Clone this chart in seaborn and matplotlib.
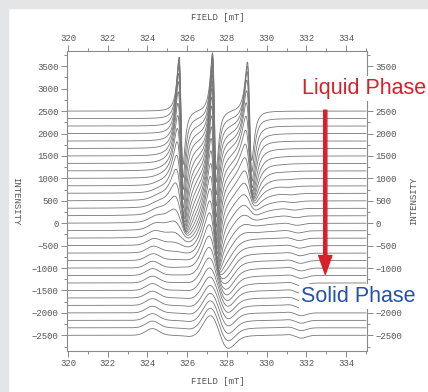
import numpy as np
import pandas as pd
import seaborn as sns
import matplotlib
matplotlib.use("Agg")
import matplotlib.pyplot as plt
from matplotlib.patches import Rectangle, FancyArrowPatch
from matplotlib.ticker import MultipleLocator

# ---- axis ticks -------------------------------------------------------------
field_ticks = [320, 322, 324, 326, 328, 330, 332, 334]
intensity_ticks = [-2500, -2000, -1500, -1000, -500, 0, 500, 1000, 1500, 2000, 2500, 3000, 3500]
# right-hand labels that sit under the phase captions
hidden_right_labels = [3000, -1500]

# ---- stacked EPR spectra: baseline of each trace (top = liquid, bottom = solid)
baselines = [2500, 2333, 2167, 2000, 1833, 1667, 1500, 1333, 1167, 1000, 833,
             667, 500, 333, 167, 0, -167, -333, -500, -667, -833, -1000,
             -1167, -1333, -1500, -1667, -1833, -2000, -2167, -2333, -2500]

# nitroxide triplet (liquid) line positions, mT
line_centers = [325.69, 327.37, 329.14]

# peak heights of the three liquid lines for each trace
height_low = [1200, 1320, 1420, 1480, 1500, 1480, 1420, 1330, 1220, 1100, 970,
              830, 690, 550, 420, 300, 200, 120, 65, 30, 10, 0, 0, 0, 0, 0,
              0, 0, 0, 0, 0]
height_mid = [1300, 1420, 1530, 1620, 1700, 1760, 1800, 1800, 1780, 1740, 1680,
              1600, 1500, 1380, 1240, 1090, 940, 790, 650, 520, 400, 300, 210,
              140, 80, 40, 10, 0, 0, 0, 0]
height_high = [1100, 1180, 1220, 1200, 1130, 1030, 900, 760, 620, 490, 370,
               270, 190, 130, 80, 40, 20, 0, 0, 0, 0, 0, 0, 0, 0, 0, 0, 0, 0,
               0, 0]

# Lorentzian widths of the three liquid lines for each trace, mT
width_low = [0.17, 0.18, 0.19, 0.20, 0.21, 0.23, 0.25, 0.27, 0.29, 0.32, 0.35,
             0.39, 0.44, 0.50, 0.57, 0.64, 0.72, 0.80, 0.88, 0.95, 1.0, 1.0,
             1.0, 1.0, 1.0, 1.0, 1.0, 1.0, 1.0, 1.0, 1.0]
width_mid = [0.17, 0.17, 0.175, 0.18, 0.185, 0.19, 0.20, 0.21, 0.22, 0.23, 0.24,
             0.255, 0.27, 0.29, 0.31, 0.33, 0.36, 0.39, 0.42, 0.46, 0.50, 0.55,
             0.60, 0.65, 0.70, 0.75, 0.80, 0.85, 0.90, 0.95, 1.0]
width_high = [0.19, 0.20, 0.22, 0.24, 0.26, 0.29, 0.32, 0.35, 0.39, 0.43, 0.47,
              0.52, 0.57, 0.62, 0.67, 0.72, 0.77, 0.82, 0.87, 0.92, 0.97, 1.0,
              1.0, 1.0, 1.0, 1.0, 1.0, 1.0, 1.0, 1.0, 1.0]

# weight of the rigid-limit (powder) pattern in each trace
solid_weight = [0, 0, 0, 0, 0, 0, 0.05, 0.10, 0.15, 0.20, 0.27, 0.34, 0.42,
                0.50, 0.58, 0.66, 0.73, 0.80, 0.86, 0.91, 0.95, 0.98, 1, 1, 1,
                1, 1, 1, 1, 1, 1]
# outer extrema of the powder pattern (low-field hump, high-field dip), mT
solid_low_edge = [325.0, 325.0, 325.0, 325.0, 325.0, 325.0, 325.0, 324.92,
                  324.85, 324.78, 324.7, 324.62, 324.55, 324.5, 324.45, 324.41,
                  324.38, 324.35, 324.32, 324.3, 324.28, 324.27, 324.26, 324.25,
                  324.25, 324.25, 324.25, 324.25, 324.25, 324.25, 324.25]
solid_high_edge = [330.6, 330.6, 330.6, 330.6, 330.6, 330.6, 330.6, 330.75,
                   330.9, 331.0, 331.1, 331.2, 331.3, 331.38, 331.45, 331.5,
                   331.55, 331.6, 331.63, 331.66, 331.68, 331.7, 331.7, 331.7,
                   331.7, 331.7, 331.7, 331.7, 331.7, 331.7, 331.7]


def lorentz_deriv(x, c, w, h):
    u = (x - c) / w
    return h * (-2 * u / (1 + u ** 2) ** 2) / 0.6495


def gauss(x, c, s, h):
    return h * np.exp(-0.5 * ((x - c) / s) ** 2)


def gauss_deriv(x, c, s, h):
    u = (x - c) / s
    return h * (-u * np.exp(-0.5 * u ** 2)) / 0.6065


def powder(x, low_edge, high_edge):
    return (gauss(x, low_edge, 0.33, 150) + gauss(x, 326.3, 0.35, -40)
            + gauss_deriv(x, 327.6, 0.45, 290) + gauss(x, 327.2, 0.4, 150)
            + gauss(x, 328.6, 0.6, -20) + gauss(x, high_edge, 0.28, -70)
            + gauss(x, high_edge - 0.45, 0.3, 25))


field = np.linspace(320.0, 335.0, 1501)
frames = []
for k, base in enumerate(baselines):
    y = np.full_like(field, float(base))
    for c, h, w in zip(line_centers,
                       (height_low[k], height_mid[k], height_high[k]),
                       (width_low[k], width_mid[k], width_high[k])):
        y += lorentz_deriv(field, c, w, h)
    y += solid_weight[k] * powder(field, solid_low_edge[k], solid_high_edge[k])
    frames.append(pd.DataFrame({"field": field, "intensity": y, "trace": k}))
spectra = pd.concat(frames, ignore_index=True)

# ---- figure -----------------------------------------------------------------
sns.set_theme(style="white")
plt.rcParams["font.family"] = ["Liberation Mono", "DejaVu Sans Mono"]

W, H = 428, 392
fig = plt.figure(figsize=(W / 100, H / 100), dpi=100)
fig.patch.set_facecolor("white")
frame_grey = "#e4e5e7"
fig.patches.append(Rectangle((0, 0), 8 / W, 1, transform=fig.transFigure,
                             color=frame_grey, zorder=0))
fig.patches.append(Rectangle((0, 1 - 8 / H), 1, 8 / H, transform=fig.transFigure,
                             color=frame_grey, zorder=0))

ax = fig.add_axes([67 / W, 1 - 351 / H, 300 / W, 300 / H])
sns.lineplot(data=spectra, x="field", y="intensity", units="trace",
             estimator=None, sort=False, color="#777777", linewidth=0.6, ax=ax)

ax.set_xlim(319.95, 335.05)
ax.set_ylim(-2850, 3840)
ax.set_xticks(field_ticks)
ax.set_yticks(intensity_ticks)
ax.xaxis.set_minor_locator(MultipleLocator(1))
ax.yaxis.set_minor_locator(MultipleLocator(250))
ax.set_xlabel("")
ax.set_ylabel("")

axis_grey = "#8a8a8a"
label_grey = "#555555"
for s in ax.spines.values():
    s.set_color(axis_grey)
    s.set_linewidth(0.8)
ax.tick_params(which="both", direction="out", top=True, bottom=True, left=True,
               right=True, labeltop=True, labelright=True, color=axis_grey,
               width=0.7)
ax.tick_params(which="major", length=4, labelsize=6.5, labelcolor=label_grey, pad=2)
ax.tick_params(which="minor", length=2)
for value, tick in zip(intensity_ticks, ax.yaxis.get_major_ticks()):
    if value in hidden_right_labels:
        tick.label2.set_visible(False)

txt = dict(color=label_grey, fontsize=6.5)
fig.text(218 / W, 1 - 17 / H, "FIELD [mT]", ha="center", va="center", **txt)
fig.text(218 / W, 1 - 382 / H, "FIELD [mT]", ha="center", va="center", **txt)
fig.text(16 / W, 1 - 201 / H, "INTENSITY", ha="center", va="center",
         rotation=270, **txt)
fig.text(414 / W, 1 - 201 / H, "INTENSITY", ha="center", va="center",
         rotation=90, **txt)

# liquid -> solid arrow
red = "#d7202a"
blue = "#2453a5"
arrow = FancyArrowPatch((332.95, 2520), (332.95, -1140),
                        arrowstyle="simple,head_length=13.5,head_width=9.5,tail_width=2.3",
                        mutation_scale=1, color=red, shrinkA=0, shrinkB=0,
                        transform=ax.transData, zorder=5)
ax.add_patch(arrow)

box = dict(facecolor="white", edgecolor="none", pad=1.5)
fig.text(302 / W, 1 - 94 / H, "Liquid Phase", color=red, fontsize=15.5,
         family="Liberation Sans", ha="left", va="baseline", bbox=box, zorder=6)
fig.text(301 / W, 1 - 302 / H, "Solid Phase", color=blue, fontsize=15.5,
         family="Liberation Sans", ha="left", va="baseline", bbox=box, zorder=6)

fig.savefig("out.png", dpi=100)
